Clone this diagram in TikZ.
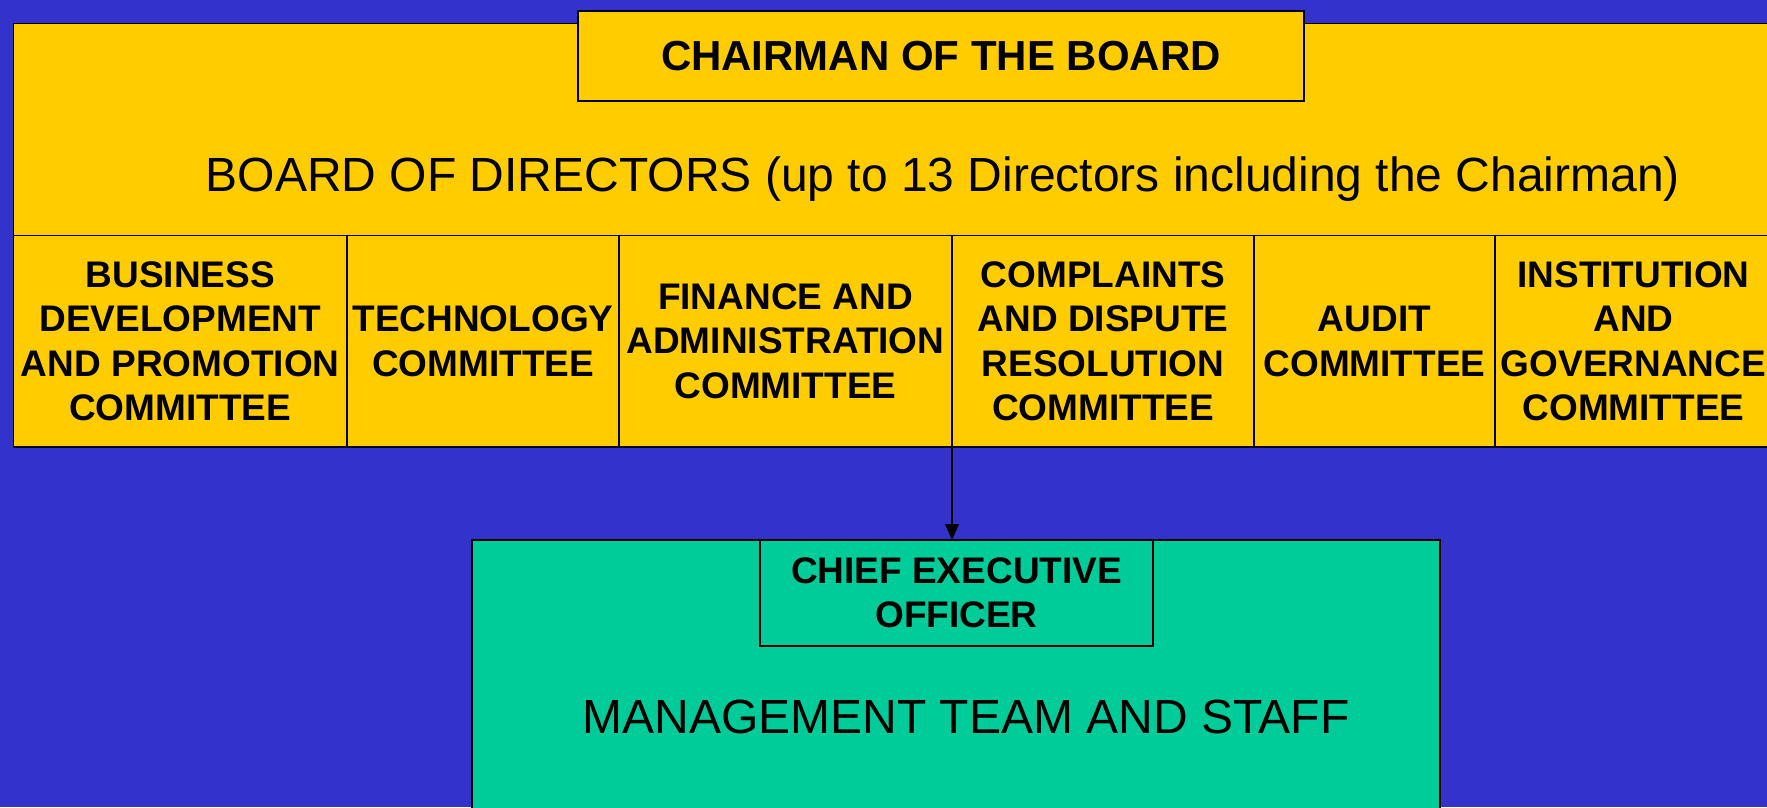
\documentclass[tikz,border=0pt]{standalone}
\usepackage{fontspec}
\setmainfont{Liberation Sans}
\usetikzlibrary{arrows.meta}
\definecolor{slideblue}{RGB}{51,51,204}
\definecolor{boardyellow}{RGB}{255,204,0}
\definecolor{staffgreen}{RGB}{0,204,153}
\tikzset{
  box/.style={draw, line width=1.2pt, inner sep=0pt, outer sep=0pt, align=center},
  comm/.style={box, fill=boardyellow, minimum height=211.5pt,
    font=\fontsize{37}{44.4}\selectfont\bfseries},
  head/.style={box, font=\fontsize{37}{44}\selectfont\bfseries},
}
\begin{document}
\begin{tikzpicture}[x=1pt,y=-1pt]
\useasboundingbox (0,0) rectangle (1767,807);
\fill[slideblue] (0,0) rectangle (1767,807);
% board and its committees
\node[box, fill=boardyellow, minimum width=1758.5pt, minimum height=211.8pt, anchor=north west] (board) at (13.5,23.7) {};
\node[comm, minimum width=333.5pt] (c1) at (180.25,341.25) {BUSINESS\\DEVELOPMENT\\AND PROMOTION\\COMMITTEE};
\node[comm, minimum width=272pt] (c2) at (483,341.25) {TECHNOLOGY\\COMMITTEE};
\node[comm, minimum width=333pt] (c3) at (785.5,341.25) {FINANCE AND\\ADMINISTRATION\\COMMITTEE};
\node[comm, minimum width=302pt] (c4) at (1103,341.25) {COMPLAINTS\\AND DISPUTE\\RESOLUTION\\COMMITTEE};
\node[comm, minimum width=241pt] (c5) at (1374.5,341.25) {AUDIT\\COMMITTEE};
\node[comm, minimum width=277pt] (c6) at (1633.5,341.25) {INSTITUTION\\AND\\GOVERNANCE\\COMMITTEE};
\node[head, fill=boardyellow, minimum width=726pt, minimum height=90pt, font=\fontsize{42}{50}\selectfont\bfseries] (chair) at (941,56) {CHAIRMAN OF THE BOARD};
\node[font=\fontsize{48}{58}\selectfont, anchor=base] (bod) at (943,191.6) {BOARD OF DIRECTORS (up to 13 Directors including the Chairman)};
% management
\node[box, fill=staffgreen, minimum width=968pt, minimum height=280pt, anchor=north west] (staff) at (472,540) {};
\node[head, minimum width=393pt, minimum height=106pt] (ceo) at (956.5,593) {CHIEF EXECUTIVE\\OFFICER};
\node[font=\fontsize{48}{58}\selectfont, anchor=base] (mgmt) at (966,733) {MANAGEMENT TEAM AND STAFF};
\draw[line width=1.2pt, -{Triangle[length=16pt, width=14pt]}] (c3.south east) -- (c3.south east |- staff.north);
\end{tikzpicture}
\end{document}
